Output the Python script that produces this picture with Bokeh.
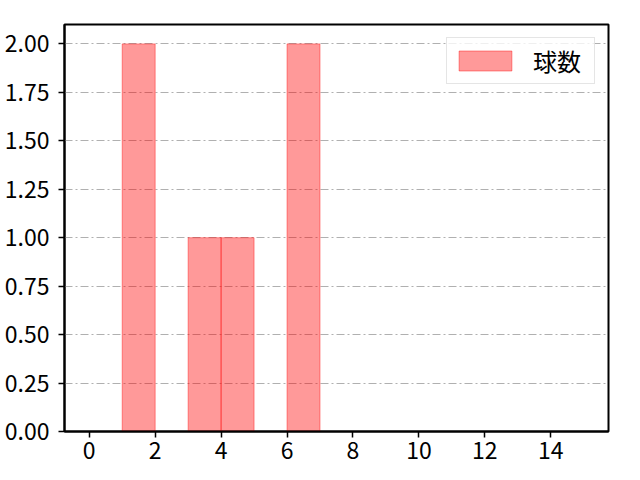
from bokeh.plotting import figure
from bokeh.models import Range1d, FixedTicker, NumeralTickFormatter, Legend, LegendItem
from bokeh.embed import file_html
from bokeh.resources import INLINE

# histogram bins (left edge, right edge) and counts
bin_left = [1, 3, 4, 6]
bin_right = [2, 4, 5, 7]
counts = [2, 1, 1, 2]
series_name = "球数"
x_ticks = [0, 2, 4, 6, 8, 10, 12, 14]
y_ticks = [0, 0.25, 0.5, 0.75, 1.0, 1.25, 1.5, 1.75, 2.0]

FONT = "Noto Sans CJK JP"

p = figure(width=624, height=464,
           x_range=Range1d(-0.75, 15.75), y_range=Range1d(0, 2.1),
           output_backend="svg", toolbar_location=None,
           min_border_left=64, min_border_right=16,
           min_border_top=24, min_border_bottom=33)

bars = p.quad(left=bin_left, right=bin_right, bottom=0, top=counts,
              fill_color="red", fill_alpha=0.4,
              line_color="red", line_alpha=0.4, line_width=1)

p.xaxis.ticker = FixedTicker(ticks=x_ticks)
p.yaxis.ticker = FixedTicker(ticks=y_ticks)
p.yaxis.formatter = NumeralTickFormatter(format="0.00")

for ax in (p.xaxis, p.yaxis):
    ax.major_label_text_font = FONT
    ax.major_label_text_font_size = "23px"
    ax.major_label_text_color = "black"
    ax.axis_line_color = "black"
    ax.axis_line_width = 2
    ax.major_tick_line_color = "black"
    ax.major_tick_line_width = 1.5
    ax.major_tick_out = 6
    ax.major_tick_in = 0
    ax.minor_tick_line_color = None
p.xaxis.major_label_standoff = 4
p.yaxis.major_label_standoff = 9

p.xgrid.grid_line_color = None
p.ygrid.grid_line_color = "#b0b0b0"
p.ygrid.grid_line_dash = "8 3 2 3"
p.ygrid.grid_line_width = 1

p.outline_line_color = "black"
p.outline_line_width = 2
p.outline_line_alpha = 1
p.background_fill_color = "white"
p.border_fill_color = "white"

legend = Legend(items=[LegendItem(label=series_name, renderers=[bars])],
                location="top_right")
legend.label_text_font = FONT
legend.label_text_font_size = "24px"
legend.label_text_color = "black"
legend.glyph_width = 66
legend.glyph_height = 25
legend.label_standoff = 15
legend.label_width = 56
legend.padding = 5
legend.margin = 13
legend.label_height = 20
legend.border_line_color = "#cccccc"
legend.border_line_width = 1
legend.background_fill_alpha = 0.8
p.add_layout(legend)

open("out.html", "w").write(file_html(p, INLINE))
